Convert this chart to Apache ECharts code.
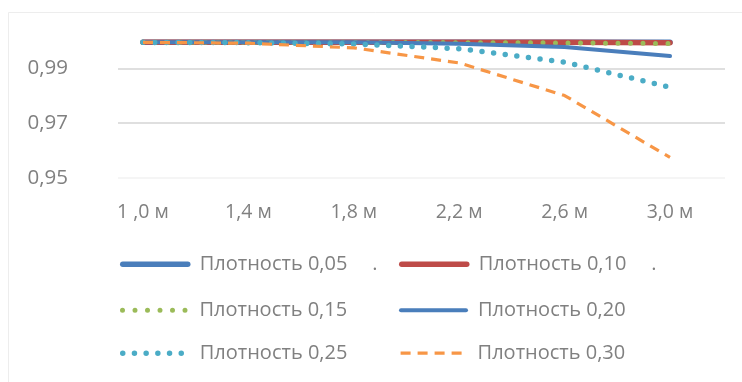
<!DOCTYPE html>
<html>
<head>
<meta charset="utf-8">
<script src="https://cdn.jsdelivr.net/npm/echarts@6/dist/echarts.min.js"></script>
<style>
  html, body { margin: 0; padding: 0; background: #ffffff; }
  #chart { width: 742px; height: 382px; }
</style>
</head>
<body>
<div id="chart"></div>
<script>
// Span categories (m)
const categories = ['1 ,0 м', '1,4 м', '1,8 м', '2,2 м', '2,6 м', '3,0 м'];

// Values for each density
const density005 = [0.9995, 0.9995, 0.9995, 0.9995, 0.9995, 0.9995];
const density010 = [0.9995, 0.9995, 0.9995, 0.9995, 0.9995, 0.9994];
const density015 = [0.9995, 0.9995, 0.9995, 0.9994, 0.9993, 0.9991];
const density020 = [0.9995, 0.9995, 0.9995, 0.9990, 0.9978, 0.9945];
const density025 = [0.9995, 0.9994, 0.9989, 0.9972, 0.9923, 0.9831];
const density030 = [0.9995, 0.9992, 0.9975, 0.9920, 0.9801, 0.9575];

const seriesNames = ['Плотность 0,05', 'Плотность 0,10', 'Плотность 0,15',
                     'Плотность 0,20', 'Плотность 0,25', 'Плотность 0,30'];

// Value axis range and tick step
const yMin = 0.95, yMax = 1.0, yStep = 0.02;

const textGrey = '#808080';
const fontFamily = '"Open Sans", sans-serif';
const fmt = v => v.toFixed(2).replace('.', ',');

// Line styles per series: colour, width, dash pattern, cap
const styles = [
  { color: '#4a7ebb', width: 5.5, type: 'solid', cap: 'round' },
  { color: '#be4b48', width: 5.5, type: 'solid', cap: 'round' },
  { color: '#9bbb59', width: 5, type: [0, 12.5], cap: 'round' },
  { color: '#4a7ebb', width: 4, type: 'solid', cap: 'round' },
  { color: '#4bacc6', width: 5.5, type: [0, 11.7], cap: 'round' },
  { color: '#f79646', width: 3.2, type: [10, 7], cap: 'butt' }
];

const datasets = [density005, density010, density015, density020, density025, density030];

const series = seriesNames.map((name, i) => ({
  name, type: 'line', data: datasets[i],
  xAxisIndex: 1, yAxisIndex: 1,
  symbol: 'none', smooth: false,
  lineStyle: Object.assign({ join: 'round' }, styles[i]),
  itemStyle: { color: styles[i].color },
  emphasis: { disabled: true },
  animation: false
}));

// Legend: two columns, three rows
const colX = [120, 399];
const rowY = [267, 313, 356];
const legends = seriesNames.map((name, i) => {
  const withDot = i < 2;
  const s = styles[i];
  return {
    data: [name],
    left: colX[i % 2],
    top: rowY[Math.floor(i / 2)] - 14,
    padding: 0,
    itemWidth: 65,
    itemHeight: 28,
    selectedMode: false,
    itemStyle: { opacity: 0, borderWidth: 0 },
    lineStyle: { color: s.color, width: s.width, type: s.type, cap: s.cap },
    formatter: n => withDot ? '{t|' + n + '}{d|.}' : '{t|' + n + '}',
    textStyle: {
      color: textGrey, fontFamily, fontSize: 20,
      padding: [0, 0, 0, 7],
      rich: {
        t: { color: textGrey, fontFamily, fontSize: 20 },
        d: { color: textGrey, fontFamily, fontSize: 20, padding: [0, 0, 0, 25] }
      }
    }
  };
});

const chart = echarts.init(document.getElementById('chart'), null, { renderer: 'canvas' });
chart.setOption({
  backgroundColor: '#ffffff',
  animation: false,
  graphic: [{
    type: 'rect', z: -10, silent: true,
    shape: { x: 8.5, y: 12.5, width: 800, height: 400 },
    style: { fill: '#ffffff', stroke: '#ededed', lineWidth: 1 }
  }],
  grid: [
    { left: 118, right: 17, top: 41, bottom: 204 },
    { left: 143, right: 72, top: 41, bottom: 204 }
  ],
  xAxis: [
    { gridIndex: 0, type: 'value', show: false, min: 0, max: 1 },
    {
      gridIndex: 1, type: 'category', data: categories, boundaryGap: false,
      axisLine: { show: false }, axisTick: { show: false },
      splitLine: { show: false },
      axisLabel: { color: textGrey, fontFamily, fontSize: 19.5, margin: 24 }
    }
  ],
  yAxis: [
    {
      gridIndex: 0, type: 'value', min: yMin, max: yMax, interval: yStep,
      axisLine: { show: false }, axisTick: { show: false },
      axisLabel: {
        color: textGrey, fontFamily, fontSize: 20.5, margin: 50,
        showMaxLabel: false, formatter: fmt
      },
      splitLine: {
        show: true, showMaxLine: false,
        lineStyle: { color: ['#f2f2f2', '#d4d4d4', '#d4d4d4'], width: 1.5 }
      }
    },
    {
      gridIndex: 1, type: 'value', min: yMin, max: yMax, show: false,
      splitLine: { show: false }
    }
  ],
  legend: legends,
  series
});
</script>
</body>
</html>
